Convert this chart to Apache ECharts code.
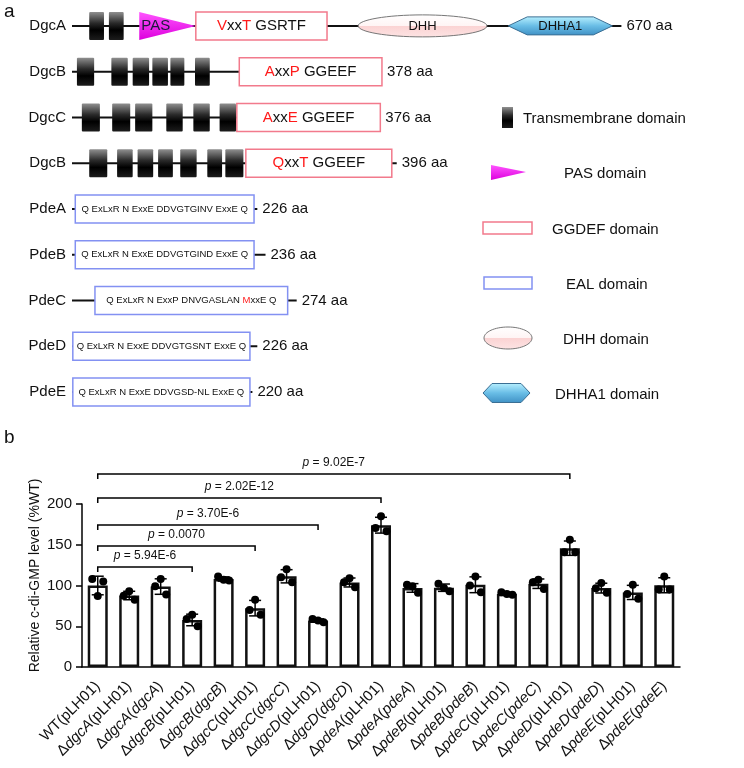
<!DOCTYPE html>
<html><head><meta charset="utf-8">
<script src="https://cdn.jsdelivr.net/npm/echarts@6/dist/echarts.min.js"></script>
<style>html,body{margin:0;padding:0;background:#fff}#c{width:744px;height:768px}</style>
</head><body><div id="c"></div>
<script>
const FONT = 'Arial, "Liberation Sans", Helvetica, sans-serif';

// ---------- Panel a: domain architecture (positions in aa) ----------
const proteins = ['DgcA', 'DgcB', 'DgcC', 'DgcB', 'PdeA', 'PdeB', 'PdeC', 'PdeD', 'PdeE'];
const proteinLengths = [670, 378, 376, 396, 226, 236, 274, 226, 220];
const tmDomains = [
  [0, 21, 39], [0, 45, 63],
  [1, 6, 27], [1, 48, 68], [1, 74, 94], [1, 98, 117], [1, 120, 137], [1, 150, 168],
  [2, 12, 34], [2, 49, 71], [2, 77, 98], [2, 115, 135], [2, 148, 168], [2, 180, 200],
  [3, 21, 43], [3, 55, 74], [3, 80, 99], [3, 105, 123], [3, 132, 152], [3, 165, 183], [3, 187, 209]
];
const pasDomains = [[0, 82, 151]];
const ggdefDomains = [[0, 151, 311], [1, 204, 378], [2, 201, 376], [3, 212, 390]];
const ggdefMotifs = ['{r|V}xx{r|T} GSRTF', '{r|A}xx{r|P} GGEEF', '{r|A}xx{r|E} GGEEF', '{r|Q}xx{r|T} GGEEF'];
const ealDomains = [[4, 4, 222], [5, 4, 222], [6, 28, 263], [7, 1, 217], [8, 1, 217]];
const ealMotifs = [
  'Q ExLxR N ExxE DDVGTGINV ExxE Q',
  'Q ExLxR N ExxE DDVGTGIND ExxE Q',
  'Q ExLxR N ExxP DNVGASLAN {r|M}xxE Q',
  'Q ExLxR N ExxE DDVGTGSNT ExxE Q',
  'Q ExLxR N ExxE DDVGSD-NL ExxE Q'
];
const dhhDomains = [[0, 349, 506]];
const dhha1Domains = [[0, 532, 659]];
const legendItems = ['Transmembrane domain', 'PAS domain', 'GGDEF domain', 'EAL domain', 'DHH domain', 'DHHA1 domain'];

// ---------- Panel b: c-di-GMP levels ----------
const strains = ['WT(pLH01)', 'ΔdgcA(pLH01)', 'ΔdgcA(dgcA)', 'ΔdgcB(pLH01)', 'ΔdgcB(dgcB)',
  'ΔdgcC(pLH01)', 'ΔdgcC(dgcC)', 'ΔdgcD(pLH01)', 'ΔdgcD(dgcD)', 'ΔpdeA(pLH01)', 'ΔpdeA(pdeA)',
  'ΔpdeB(pLH01)', 'ΔpdeB(pdeB)', 'ΔpdeC(pLH01)', 'ΔpdeC(pdeC)', 'ΔpdeD(pLH01)', 'ΔpdeD(pdeD)',
  'ΔpdeE(pLH01)', 'ΔpdeE(pdeE)'];
const means = [100, 87.7, 98.7, 57.7, 108, 72.2, 111.3, 57, 103.7, 174, 97, 97.3, 100.9, 90, 102.2, 145.8, 96.8, 91.5, 100.3];
const sds = [11.4, 5.2, 9.5, 7.1, 2.6, 9.5, 8.1, 2, 5.5, 9.7, 5.3, 4.5, 9.7, 1.4, 5.8, 8.8, 6, 8.7, 9.2];
const replicates = [
  [108, 87, 105], [87.5, 93, 82.6], [99, 108, 89], [59, 64, 50], [111, 107, 106],
  [70, 82.6, 64], [110, 120, 104], [59, 57, 55], [104, 109, 98], [170.5, 185, 166.5],
  [101, 99, 91], [102, 97, 93], [100, 111, 91.6], [91.6, 89.6, 88.8], [104, 107, 95.7],
  [140.7, 156, 140.7], [96.5, 103, 91], [89.6, 101, 83.8], [95, 111, 95]
];
const yTicks = [0, 50, 100, 150, 200];
// [from, to, bracket height (%WT), p value]
const comparisons = [[0, 3, 122.7, '5.94E-6'], [0, 5, 148.5, '0.0070'], [0, 7, 174.2, '3.70E-6'], [0, 9, 207.4, '2.02E-12'], [0, 15, 236.8, '9.02E-7']];

const BOX_H = 28;
const tmGrad = () => new echarts.graphic.LinearGradient(0, 0, 0, 1, [
  { offset: 0, color: '#909090' }, { offset: 0.4, color: '#2a2a2a' }, { offset: 0.65, color: '#000' }, { offset: 1, color: '#1c1c1c' }]);
const pasGrad = () => new echarts.graphic.LinearGradient(0, 0, 0, 1, [
  { offset: 0, color: '#ff55ff' }, { offset: 1, color: '#dd00dd' }]);
const dhhGrad = () => new echarts.graphic.LinearGradient(0, 0, 0, 1, [
  { offset: 0, color: '#ffffff' }, { offset: 0.5, color: '#fff4f4' }, { offset: 0.52, color: '#fbd3d3' }, { offset: 1, color: '#fde4e4' }]);
const dhha1Grad = () => new echarts.graphic.LinearGradient(0, 0, 0, 1, [
  { offset: 0, color: '#b9f1ff' }, { offset: 0.5, color: '#69bde6' }, { offset: 1, color: '#3f90c4' }]);

function txt(x, y, text, size, align, rich) {
  return { type: 'text', x: x, y: y, style: { text: text, fill: '#111', font: size + 'px ' + FONT, align: align || 'center', verticalAlign: 'middle', rich: rich || {} } };
}

const richRed = (size) => ({ r: { fill: '#ff1a1a', fontSize: size, fontFamily: FONT } });

const series = [
  { // backbones
    type: 'custom', xAxisIndex: 0, yAxisIndex: 0, z: 1, silent: true,
    data: proteinLengths.map((l, i) => [i, l]),
    renderItem: (p, api) => {
      const row = api.value(0), len = api.value(1);
      const a = api.coord([0, row]), b = api.coord([len, row]);
      return { type: 'group', children: [
        { type: 'line', shape: { x1: a[0], y1: a[1], x2: b[0], y2: b[1] }, style: { stroke: '#111', lineWidth: 2 } },
        txt(b[0] + 5, b[1], len + ' aa', 15, 'left')
      ] };
    }
  },
  { // transmembrane
    type: 'custom', xAxisIndex: 0, yAxisIndex: 0, z: 2, silent: true, data: tmDomains,
    renderItem: (p, api) => {
      const a = api.coord([api.value(1), api.value(0)]), b = api.coord([api.value(2), api.value(0)]);
      return { type: 'rect', shape: { x: a[0], y: a[1] - BOX_H / 2, width: b[0] - a[0], height: BOX_H, r: 1 }, style: { fill: tmGrad() } };
    }
  },
  { // PAS
    type: 'custom', xAxisIndex: 0, yAxisIndex: 0, z: 2, silent: true, data: pasDomains,
    renderItem: (p, api) => {
      const a = api.coord([api.value(1), api.value(0)]), b = api.coord([api.value(2), api.value(0)]);
      return { type: 'group', children: [
        { type: 'polygon', shape: { points: [[a[0], a[1] - BOX_H / 2], [a[0], a[1] + BOX_H / 2], [b[0], b[1]]] }, style: { fill: pasGrad() } },
        { type: 'text', x: a[0] + 2, y: a[1], style: { text: 'PAS', fill: '#1a1a3a', font: '15px ' + FONT, align: 'left', verticalAlign: 'middle' } }
      ] };
    }
  },
  { // GGDEF
    type: 'custom', xAxisIndex: 0, yAxisIndex: 0, z: 3, silent: true, data: ggdefDomains,
    renderItem: (p, api) => {
      const a = api.coord([api.value(1), api.value(0)]), b = api.coord([api.value(2), api.value(0)]);
      return { type: 'group', children: [
        { type: 'rect', shape: { x: a[0], y: a[1] - BOX_H / 2, width: b[0] - a[0], height: BOX_H }, style: { fill: '#fff', stroke: '#f27a8c', lineWidth: 1.5 } },
        txt((a[0] + b[0]) / 2, a[1], ggdefMotifs[p.dataIndex], 15, 'center', richRed(15))
      ] };
    }
  },
  { // EAL
    type: 'custom', xAxisIndex: 0, yAxisIndex: 0, z: 3, silent: true, data: ealDomains,
    renderItem: (p, api) => {
      const a = api.coord([api.value(1), api.value(0)]), b = api.coord([api.value(2), api.value(0)]);
      return { type: 'group', children: [
        { type: 'rect', shape: { x: a[0], y: a[1] - BOX_H / 2, width: b[0] - a[0], height: BOX_H }, style: { fill: '#fff', stroke: '#8391f2', lineWidth: 1.5 } },
        txt((a[0] + b[0]) / 2, a[1], ealMotifs[p.dataIndex], 9.5, 'center', richRed(9.5))
      ] };
    }
  },
  { // DHH
    type: 'custom', xAxisIndex: 0, yAxisIndex: 0, z: 3, silent: true, data: dhhDomains,
    renderItem: (p, api) => {
      const a = api.coord([api.value(1), api.value(0)]), b = api.coord([api.value(2), api.value(0)]);
      return { type: 'group', children: [
        { type: 'ellipse', shape: { cx: (a[0] + b[0]) / 2, cy: a[1], rx: (b[0] - a[0]) / 2, ry: 11 }, style: { fill: dhhGrad(), stroke: '#777', lineWidth: 1 } },
        txt((a[0] + b[0]) / 2, a[1] + 1, 'DHH', 13)
      ] };
    }
  },
  { // DHHA1
    type: 'custom', xAxisIndex: 0, yAxisIndex: 0, z: 3, silent: true, data: dhha1Domains,
    renderItem: (p, api) => {
      const a = api.coord([api.value(1), api.value(0)]), b = api.coord([api.value(2), api.value(0)]);
      const y = a[1], h = 9, s = 19;
      return { type: 'group', children: [
        { type: 'polygon', shape: { points: [[a[0], y], [a[0] + s, y - h], [b[0] - s, y - h], [b[0], y], [b[0] - s, y + h], [a[0] + s, y + h]] }, style: { fill: dhha1Grad(), stroke: '#3b6f94', lineWidth: 1 } },
        txt((a[0] + b[0]) / 2, y + 1, 'DHHA1', 13)
      ] };
    }
  },
  // ---------- panel b ----------
  {
    type: 'bar', xAxisIndex: 1, yAxisIndex: 1, data: means, barWidth: 20, z: 2, silent: true,
    itemStyle: { color: '#fff', borderColor: '#111', borderWidth: 2.5 }
  },
  { // error bars
    type: 'custom', xAxisIndex: 1, yAxisIndex: 1, z: 4, silent: true,
    data: means.map((m, i) => [i, m, sds[i]]),
    encode: { x: 0, y: 1 },
    renderItem: (p, api) => {
      const c = api.value(0), m = api.value(1), sd = api.value(2);
      const t = api.coord([c, m + sd]), b = api.coord([c, m - sd]), hw = 6;
      const st = { stroke: '#000', lineWidth: 1.5 };
      return { type: 'group', children: [
        { type: 'line', shape: { x1: t[0], y1: t[1], x2: b[0], y2: b[1] }, style: st },
        { type: 'line', shape: { x1: t[0] - hw, y1: t[1], x2: t[0] + hw, y2: t[1] }, style: st },
        { type: 'line', shape: { x1: b[0] - hw, y1: b[1], x2: b[0] + hw, y2: b[1] }, style: st }
      ] };
    }
  },
  { // replicate points
    type: 'custom', xAxisIndex: 1, yAxisIndex: 1, z: 5, silent: true,
    data: replicates.flatMap((r, i) => r.map((v, j) => [i, v, j])),
    encode: { x: 0, y: 1 },
    renderItem: (p, api) => {
      const pt = api.coord([api.value(0), api.value(1)]);
      return { type: 'circle', shape: { cx: pt[0] + (api.value(2) - 1) * 5.5, cy: pt[1], r: 4 }, style: { fill: '#000' } };
    }
  },
  { // significance brackets
    type: 'custom', xAxisIndex: 1, yAxisIndex: 1, z: 5, silent: true, clip: false,
    data: comparisons.map(c => [c[0], c[1], c[2]]),
    renderItem: (p, api) => {
      const a = api.coord([api.value(0), api.value(2)]), b = api.coord([api.value(1), api.value(2)]);
      const drop = 5;
      return { type: 'group', children: [
        { type: 'polyline', shape: { points: [[a[0], a[1] + drop], [a[0], a[1]], [b[0], b[1]], [b[0], b[1] + drop]] }, style: { stroke: '#000', lineWidth: 1.5, fill: null } },
        { type: 'text', x: (a[0] + b[0]) / 2, y: a[1] - 11, style: { text: '{i|p} = ' + comparisons[p.dataIndex][3], fill: '#111', font: '12px ' + FONT, align: 'center', verticalAlign: 'middle', rich: { i: { fontStyle: 'italic', fontSize: 12, fontFamily: FONT, fill: '#111' } } } }
      ] };
    }
  }
];

function strainLabel(s) {
  const m = s.match(/^Δ(\w+)\((\w+)\)$/);
  if (!m) return s;
  const plas = m[2] === 'pLH01' ? m[2] : '{i|' + m[2] + '}';
  return 'Δ{i|' + m[1] + '}(' + plas + ')';
}

// legend graphics (positions of the key icons)
const LX = 508;
const legendY = [117, 172, 228, 283, 338, 393];
const legendTextX = [523, 564, 552, 566, 563, 555];
const graphic = [
  { type: 'text', left: 4, top: 2, style: { text: 'a', font: '19px ' + FONT, fill: '#111' } },
  { type: 'text', left: 4, top: 428, style: { text: 'b', font: '19px ' + FONT, fill: '#111' } },
  { type: 'rect', shape: { x: 502, y: legendY[0] - 10, width: 11, height: 21 }, style: { fill: tmGrad() } },
  { type: 'polygon', shape: { points: [[491, legendY[1] - 7], [491, legendY[1] + 8], [526, legendY[1]]] }, style: { fill: pasGrad() } },
  { type: 'rect', shape: { x: 483, y: legendY[2] - 6, width: 49, height: 12 }, style: { fill: '#fff', stroke: '#f27a8c', lineWidth: 1.5 } },
  { type: 'rect', shape: { x: 484, y: legendY[3] - 6, width: 48, height: 12 }, style: { fill: '#fff', stroke: '#8391f2', lineWidth: 1.5 } },
  { type: 'ellipse', shape: { cx: LX, cy: legendY[4], rx: 24, ry: 11 }, style: { fill: dhhGrad(), stroke: '#777', lineWidth: 1 } },
  { type: 'polygon', shape: { points: [[483, legendY[5]], [492, legendY[5] - 9.5], [521, legendY[5] - 9.5], [530, legendY[5]], [521, legendY[5] + 9.5], [492, legendY[5] + 9.5]] }, style: { fill: dhha1Grad(), stroke: '#3b6f94', lineWidth: 1 } }
].concat(legendItems.map((t, i) => ({ type: 'text', x: legendTextX[i], y: legendY[i] + 2, style: { text: t, font: '15px ' + FONT, fill: '#111', align: 'left', verticalAlign: 'middle' } })));

const chart = echarts.init(document.getElementById('c'), null, { renderer: 'canvas' });
chart.setOption({
  animation: false,
  backgroundColor: '#fff',
  textStyle: { fontFamily: FONT },
  grid: [
    { left: 72, top: 3, width: 656, height: 412 },
    { left: 82, top: 504, width: 598, height: 163 }
  ],
  xAxis: [
    { gridIndex: 0, type: 'value', min: 0, max: 800, show: false },
    {
      gridIndex: 1, type: 'category', data: strains,
      axisLine: { lineStyle: { color: '#000', width: 1.5 } },
      axisTick: { alignWithLabel: true, length: 6, lineStyle: { color: '#000', width: 1.5 } },
      axisLabel: {
        rotate: 45, interval: 0, margin: 17, fontSize: 15, color: '#111', fontFamily: FONT,
        formatter: strainLabel,
        rich: { i: { fontStyle: 'italic', fontSize: 15, color: '#111', fontFamily: FONT } }
      }
    }
  ],
  yAxis: [
    {
      gridIndex: 0, type: 'category', data: proteins, inverse: true,
      axisLine: { show: false }, axisTick: { show: false }, splitLine: { show: false },
      axisLabel: { margin: 6, fontSize: 15, color: '#111', fontFamily: FONT }
    },
    {
      gridIndex: 1, type: 'value', min: yTicks[0], max: yTicks[yTicks.length - 1], interval: 50,
      axisLine: { show: true, lineStyle: { color: '#000', width: 1.5 } },
      axisTick: { show: true, length: 6, lineStyle: { color: '#000', width: 1.5 } },
      axisLabel: { fontSize: 15, color: '#111', fontFamily: FONT, margin: 10 },
      splitLine: { show: false },
      name: 'Relative c-di-GMP level (%WT)', nameLocation: 'middle', nameGap: 40, nameMoveOverlap: false,
      nameTextStyle: { fontSize: 14, color: '#111', fontFamily: FONT, padding: [0, 0, 0, 20] }
    }
  ],
  series: series,
  graphic: graphic
});
</script>
</body></html>
